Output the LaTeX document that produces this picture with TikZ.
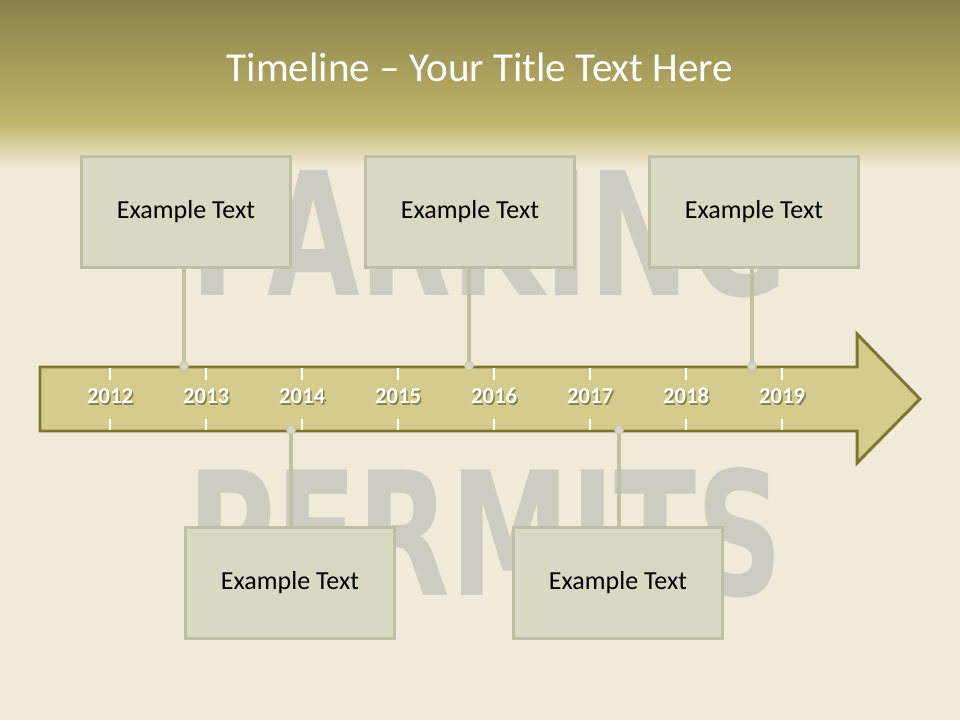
\documentclass[tikz,border=0pt]{standalone}
\usepackage{fontspec}
\usepackage{graphicx}
\setmainfont{Carlito}
\newfontfamily\stencilfont{DejaVu Sans}
\definecolor{cream}{RGB}{240,235,216}
\definecolor{headtop}{RGB}{136,129,74}
\definecolor{headbot}{RGB}{194,182,106}
\definecolor{stencil}{RGB}{206,204,194}
\definecolor{boxfill}{RGB}{217,216,195}
\definecolor{boxline}{RGB}{192,191,163}
\definecolor{connline}{RGB}{194,193,165}
\definecolor{dotfill}{RGB}{214,213,200}
\definecolor{arrowfill}{RGB}{213,203,141}
\definecolor{arrowline}{RGB}{128,118,50}
\definecolor{yearshadow}{RGB}{140,132,80}
\pgfdeclarelayer{bglayer}
\pgfdeclarelayer{connlayer}
\pgfsetlayers{bglayer,connlayer,main}
\newcommand{\shadowed}[1]{\makebox[0pt][l]{\kern0.9pt\raisebox{-0.9pt}{\textcolor{yearshadow}{#1}}}#1}
\tikzset{
  eventbox/.style={draw=boxline, line width=1.7pt, fill=boxfill, minimum width=4.18cm, minimum height=2.22cm, inner sep=0pt, font=\fontsize{14.8}{17}\selectfont, text=black},
  connector/.style={draw=connline, line width=2pt},
  evdot/.style={circle, fill=dotfill, draw=connline, line width=0.4pt, minimum size=0.18cm, inner sep=0pt},
  yearlbl/.style={font=\fontsize{12.9}{15}\selectfont\bfseries, text=white, inner sep=0pt},
  tickmark/.style={draw=white, line width=0.6pt},
  stenciltext/.style={anchor=north west, inner sep=0pt, text=stencil}
}
\begin{document}
\begin{tikzpicture}[x=0.02cm, y=-0.02cm]
\useasboundingbox (0,0) rectangle (960,720);
\begin{pgfonlayer}{bglayer}
% background
\fill[cream] (0,0) rectangle (960,720);
% faint stencil letters of the background
\node[stenciltext] (stA) at (190,168) {\resizebox{11.94cm}{2.55cm}{\stencilfont\bfseries PARKING}};
\node[stenciltext] (stB) at (187,467) {\resizebox{11.92cm}{2.56cm}{\stencilfont\bfseries PERMITS}};
% header gradient
\shade[top color=headtop, bottom color=headbot] (0,0) rectangle (960,124);
\shade[top color=headbot, bottom color=cream] (0,123.5) rectangle (960,168);
% arrow
\draw[fill=arrowfill, draw=arrowline, line width=1.7pt, line join=miter]
  (40,367) -- (857,367) -- (857,334) -- (920,399) -- (857,463) -- (857,431) -- (40,431) -- cycle;
\end{pgfonlayer}
\node[text=white, font=\fontsize{23.4}{28}\selectfont, inner sep=0pt] (title) at (480,67) {Timeline – Your Title Text Here};
% ticks and years
\foreach \yr [count=\i from 0] in {2012,2013,2014,2015,2016,2017,2018,2019} {
  \coordinate (t\i) at ({110+96*\i},368);
  \coordinate (u\i) at ({110+96*\i},419);
  \draw[tickmark] (t\i) -- ++(0,12);
  \draw[tickmark] (u\i) -- ++(0,11);
  \node[yearlbl] (y\i) at ({110+96*\i},397) {\shadowed{\yr}};
}
% event boxes
\node[eventbox] (b1) at (186,212) {Example Text};
\node[eventbox] (b2) at (470,212) {Example Text};
\node[eventbox] (b3) at (754,212) {Example Text};
\node[eventbox] (b4) at (290,583) {Example Text};
\node[eventbox] (b5) at (618,583) {Example Text};
% dots on the arrow
\node[evdot] (p1) at (184,366) {};
\node[evdot] (p2) at (469,366) {};
\node[evdot] (p3) at (752,366) {};
\node[evdot] (p4) at (291,430) {};
\node[evdot] (p5) at (619,430) {};
% connectors (behind boxes and dots)
\begin{pgfonlayer}{connlayer}
\draw[connector] (p1.center) -- (p1.center |- b1.south);
\draw[connector] (p2.center) -- (p2.center |- b2.south);
\draw[connector] (p3.center) -- (p3.center |- b3.south);
\draw[connector] (p4.center) -- (p4.center |- b4.north);
\draw[connector] (p5.center) -- (p5.center |- b5.north);
\end{pgfonlayer}
\end{tikzpicture}
\end{document}
